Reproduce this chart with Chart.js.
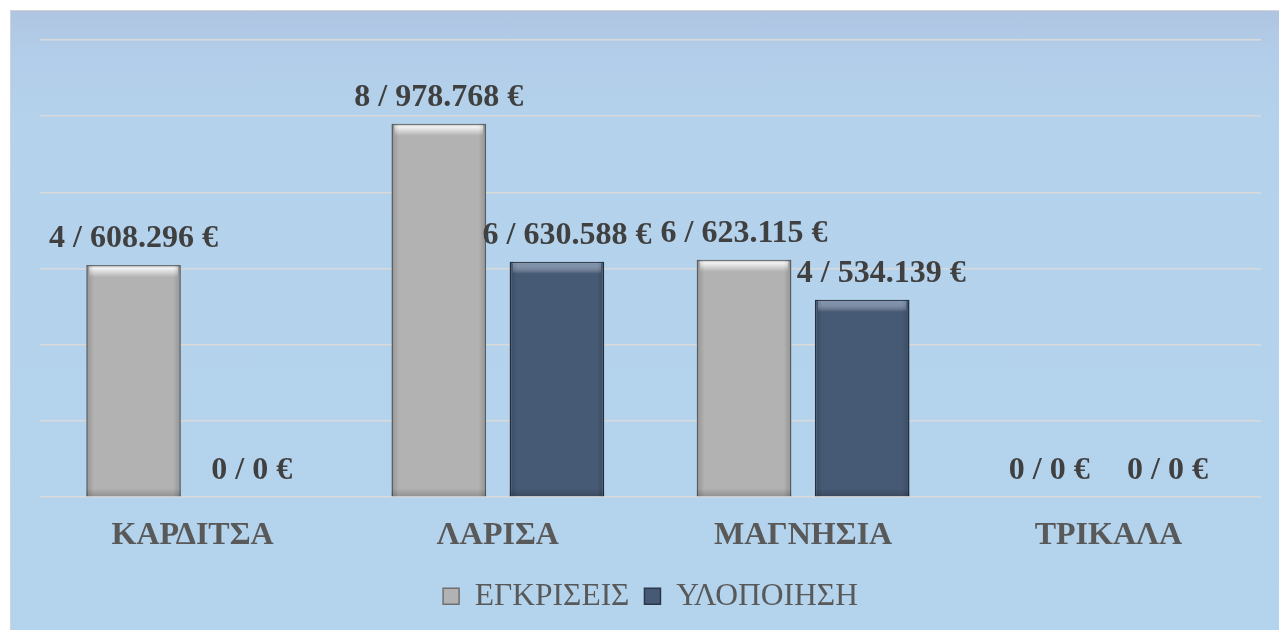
<!DOCTYPE html>
<html>
<head>
<meta charset="utf-8">
<script src="https://cdn.jsdelivr.net/npm/chart.js@4.4.1/dist/chart.umd.min.js"></script>
<style>
  html,body{margin:0;padding:0;background:#ffffff;}
  #box{position:absolute;left:10px;top:10px;width:1269px;height:620px;
       border-top:1.5px solid #d3d3d3;border-left:1.5px solid #d3d3d3;box-sizing:border-box;
       background:linear-gradient(to bottom,#afc5e2 0px,#b2cde9 40px,#b4d2ec 110px,#b4d3ec 100%);}
  canvas{display:block;}
</style>
</head>
<body>
<div id="box"><canvas id="c" width="1268" height="619"></canvas></div>
<script>
// ---- data ----
const categories = ['ΚΑΡΔΙΤΣΑ', 'ΛΑΡΙΣΑ', 'ΜΑΓΝΗΣΙΑ', 'ΤΡΙΚΑΛΑ'];
const seriesNames = ['ΕΓΚΡΙΣΕΙΣ', 'ΥΛΟΠΟΙΗΣΗ'];
const approvalsValues = [609000, 980000, 623000, 0];          // bar heights
const implementationValues = [0, 618000, 518000, 0];
const approvalsCounts = [4, 8, 6, 0];
const implementationCounts = [0, 6, 4, 0];
const approvalsAmounts = ['608.296', '978.768', '623.115', '0'];
const implementationAmounts = ['0', '630.588', '534.139', '0'];
const yTicks = [0, 200000, 400000, 600000, 800000, 1000000, 1200000];

// label style (not data)
const labelShiftX = [[0, 0, 0, 0], [0, 10, 19, 0]];
const labelCounts = [approvalsCounts, implementationCounts];
const labelAmounts = [approvalsAmounts, implementationAmounts];

const SERIF = "'Liberation Serif','Times New Roman',serif";

const bevelPlugin = {
  id: 'bevel',
  afterDatasetsDraw(chart) {
    const ctx = chart.ctx;
    chart.data.datasets.forEach((ds, i) => {
      const meta = chart.getDatasetMeta(i);
      meta.data.forEach((bar) => {
        const h = bar.base - bar.y;
        if (h < 2) return;
        const l = bar.x - bar.width / 2, r = bar.x + bar.width / 2, t = bar.y;
        ctx.save();
        let g = ctx.createLinearGradient(0, t, 0, t + 12);
        g.addColorStop(0, 'rgba(255,255,255,0.0)');
        g.addColorStop(0.25, i === 0 ? 'rgba(255,255,255,0.85)' : 'rgba(150,170,195,0.7)');
        g.addColorStop(1, 'rgba(255,255,255,0)');
        ctx.fillStyle = g;
        ctx.fillRect(l + 3, t + 1, r - l - 6, 12);
        let gs = ctx.createLinearGradient(l, 0, r, 0);
        gs.addColorStop(0, 'rgba(0,0,0,0.18)');
        gs.addColorStop(0.08, 'rgba(0,0,0,0)');
        gs.addColorStop(0.92, 'rgba(0,0,0,0)');
        gs.addColorStop(1, 'rgba(0,0,0,0.18)');
        ctx.fillStyle = gs;
        ctx.fillRect(l, t, r - l, h);
        let gb = ctx.createLinearGradient(0, bar.base - 8, 0, bar.base);
        gb.addColorStop(0, 'rgba(0,0,0,0)');
        gb.addColorStop(1, 'rgba(0,0,0,0.18)');
        ctx.fillStyle = gb;
        ctx.fillRect(l, bar.base - 8, r - l, 8);
        ctx.restore();
      });
    });
  }
};

const labelPlugin = {
  id: 'valueLabels',
  afterDatasetsDraw(chart) {
    const ctx = chart.ctx;
    ctx.save();
    ctx.font = "bold 32px " + SERIF;
    ctx.fillStyle = '#404040';
    ctx.textAlign = 'center';
    ctx.textBaseline = 'alphabetic';
    chart.data.datasets.forEach((ds, i) => {
      const meta = chart.getDatasetMeta(i);
      meta.data.forEach((bar, j) => {
        const txt = labelCounts[i][j] + ' / ' + labelAmounts[i][j] + ' €';
        ctx.fillText(txt, bar.x + labelShiftX[i][j], bar.y - 18);
      });
    });
    ctx.restore();
  }
};

new Chart(document.getElementById('c'), {
  type: 'bar',
  data: {
    labels: categories,
    datasets: [
      {
        label: seriesNames[0],
        data: approvalsValues,
        backgroundColor: '#b2b2b2',
        borderColor: '#6f6f6f',
        borderWidth: 1.5,
        categoryPercentage: 0.774,
        barPercentage: 0.8
      },
      {
        label: seriesNames[1],
        data: implementationValues,
        backgroundColor: '#475a75',
        borderColor: '#2b384a',
        borderWidth: 1.5,
        categoryPercentage: 0.774,
        barPercentage: 0.8
      }
    ]
  },
  options: {
    responsive: false,
    animation: false,
    layout: { padding: { left: 29, right: 18, top: 29, bottom: 8 } },
    plugins: {
      legend: {
        position: 'bottom',
        labels: {
          boxWidth: 16,
          boxHeight: 16,
          padding: 15,
          color: '#595959',
          font: { family: SERIF, size: 31.5 }
        }
      },
      tooltip: { enabled: false }
    },
    scales: {
      x: {
        grid: { display: false },
        border: { display: false },
        ticks: {
          color: '#595959',
          padding: 11,
          font: { family: SERIF, size: 32, weight: 'bold' }
        }
      },
      y: {
        min: 0,
        max: yTicks[yTicks.length - 1],
        afterBuildTicks(scale) { scale.ticks = yTicks.map(v => ({ value: v })); },
        ticks: { display: false },
        border: { display: false },
        grid: { color: '#d9d9d9', lineWidth: 1.6, drawTicks: false }
      }
    }
  },
  plugins: [bevelPlugin, labelPlugin]
});
</script>
</body>
</html>
